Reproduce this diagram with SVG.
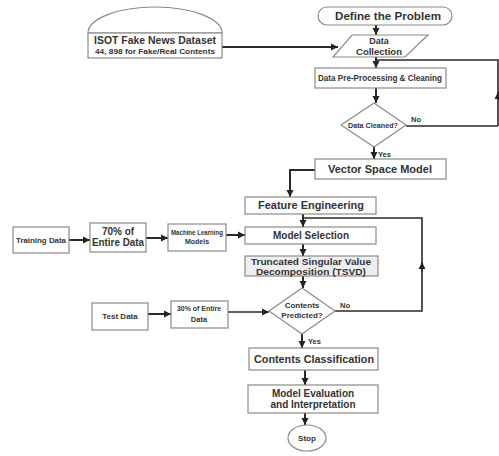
<svg xmlns="http://www.w3.org/2000/svg" width="499" height="456" viewBox="0 0 499 456">
<defs>
<marker id="ah" markerWidth="8" markerHeight="8" refX="7" refY="4" orient="auto" markerUnits="userSpaceOnUse">
<path d="M0,0.5 L7,4 L0,7.5 Z" fill="#222"/>
</marker>
<style>
.box{fill:#fff;stroke:#8a8a8a;stroke-width:1.2}
.c{fill:none;stroke:#2a2a2a;stroke-width:2}
.t{font-family:"Liberation Sans",Arial,sans-serif;font-weight:bold;fill:#333;text-anchor:middle}
.s{font-family:"Liberation Sans",Arial,sans-serif;font-weight:bold;fill:#333}
</style>
</defs>
<rect width="499" height="456" fill="#fff"/>

<g id="connectors">
<path class="c" d="M222,47 L338,47" marker-end="url(#ah)"/>
<path class="c" d="M376,25 L376,35" marker-end="url(#ah)"/>
<path class="c" d="M376,57 L376,68" marker-end="url(#ah)"/>
<path class="c" d="M498,126 L498,60 L376,60" style="stroke-width:1.6"/>
<path class="c" d="M498,100 L498,92" marker-end="url(#ah)" style="stroke-width:1.6"/>
<path class="c" d="M376,88 L376,103" marker-end="url(#ah)"/>
<path class="c" d="M406,126 L498,126" style="stroke-width:1.6"/>
<path class="c" d="M374,147 L374,159" marker-end="url(#ah)"/>
<path class="c" d="M315,170 L290,170 L290,197" marker-end="url(#ah)"/>
<path class="c" d="M303,214 L303,227" marker-end="url(#ah)"/>
<path class="c" d="M335,311 L422,311 L422,218 L303,218" style="stroke-width:1.6"/>
<path class="c" d="M422,272 L422,262" marker-end="url(#ah)" style="stroke-width:1.6"/>
<path class="c" d="M303,244 L303,256" marker-end="url(#ah)"/>
<path class="c" d="M303,276 L303,288" marker-end="url(#ah)"/>
<path class="c" d="M228,312 L269,312" marker-end="url(#ah)" style="stroke-width:1.6"/>
<path class="c" d="M302,334 L302,348" marker-end="url(#ah)"/>
<path class="c" d="M305,370 L305,385" marker-end="url(#ah)"/>
<path class="c" d="M305,413 L305,425" marker-end="url(#ah)"/>
<path class="c" d="M69,240 L90,240" marker-end="url(#ah)"/>
<path class="c" d="M146,238 L168,238" marker-end="url(#ah)"/>
<path class="c" d="M226,235 L245,235" marker-end="url(#ah)"/>
<path class="c" d="M148,314 L171,314" marker-end="url(#ah)"/>
<text class="s" x="411" y="122" font-size="7.5">No</text>
<text class="s" x="378" y="157" font-size="7.5">Yes</text>
<text class="s" x="340" y="308" font-size="7.5">No</text>
<text class="s" x="308" y="344" font-size="7.5">Yes</text>
</g>

<g id="dataset">
<path class="box" d="M88,33 A67,26 0 0 1 222,33 Z"/>
<rect class="box" x="88" y="33" width="134" height="25"/>
<text class="t" x="155" y="44" font-size="10" textLength="122" lengthAdjust="spacingAndGlyphs">ISOT Fake News Dataset</text>
<text class="t" x="155" y="54" font-size="7.5" textLength="120" lengthAdjust="spacingAndGlyphs">44, 898 for Fake/Real Contents</text>
</g>

<g id="define">
<rect class="box" x="318" y="7" width="134" height="18" rx="9"/>
<text class="t" x="388" y="20" font-size="10.5" textLength="106" lengthAdjust="spacingAndGlyphs">Define the Problem</text>
</g>

<g id="collection">
<polygon class="box" points="352,35 428,35 405,57 333,57"/>
<text class="t" x="379" y="44" font-size="9">Data</text>
<text class="t" x="379" y="55" font-size="9.5">Collection</text>
</g>

<g id="preprocessing">
<rect class="box" x="315" y="68" width="131" height="20"/>
<text class="t" x="380" y="81" font-size="9" textLength="124" lengthAdjust="spacingAndGlyphs">Data Pre-Processing &amp; Cleaning</text>
</g>

<g id="cleaned">
<polygon class="box" points="374,103 406,125 374,147 341,125"/>
<text class="t" x="373" y="128" font-size="7.5" textLength="50" lengthAdjust="spacingAndGlyphs">Data Cleaned?</text>
</g>

<g id="vsm">
<rect class="box" x="315" y="159" width="131" height="20"/>
<text class="t" x="380" y="173" font-size="10.5" textLength="104" lengthAdjust="spacingAndGlyphs">Vector Space Model</text>
</g>

<g id="feature">
<rect class="box" x="245" y="197" width="131" height="17"/>
<text class="t" x="311" y="209" font-size="10" textLength="106" lengthAdjust="spacingAndGlyphs">Feature Engineering</text>
</g>

<g id="selection">
<rect class="box" x="245" y="227" width="131" height="17"/>
<text class="t" x="311" y="239" font-size="10">Model Selection</text>
</g>

<g id="tsvd">
<rect class="box" x="245" y="256" width="133" height="20" style="fill:#eeeeee"/>
<text class="t" x="311" y="264.5" font-size="8.5" textLength="120" lengthAdjust="spacingAndGlyphs">Truncated Singular Value</text>
<text class="t" x="311" y="274.5" font-size="8.5" textLength="110" lengthAdjust="spacingAndGlyphs">Decomposition (TSVD)</text>
</g>

<g id="predicted">
<polygon class="box" points="302,288 335,311 302,334 269,311"/>
<text class="t" x="302" y="308" font-size="8">Contents</text>
<text class="t" x="302" y="318" font-size="8">Predicted?</text>
</g>

<g id="classification">
<rect class="box" x="249" y="348" width="129" height="22"/>
<text class="t" x="314" y="363" font-size="10" textLength="120" lengthAdjust="spacingAndGlyphs">Contents Classification</text>
</g>

<g id="evaluation">
<rect class="box" x="248" y="385" width="130" height="28"/>
<text class="t" x="313" y="397" font-size="10">Model Evaluation</text>
<text class="t" x="313" y="408" font-size="10">and Interpretation</text>
</g>

<g id="stop">
<ellipse class="box" cx="307" cy="438" rx="19" ry="13"/>
<text class="t" x="307" y="441" font-size="8">Stop</text>
</g>

<g id="training">
<rect class="box" x="13" y="227" width="56" height="26"/>
<text class="t" x="41" y="243" font-size="8" textLength="50" lengthAdjust="spacingAndGlyphs">Training Data</text>
</g>

<g id="seventy">
<rect class="box" x="90" y="223" width="56" height="29"/>
<text class="t" x="118" y="235" font-size="10">70% of</text>
<text class="t" x="118" y="246" font-size="10" textLength="52" lengthAdjust="spacingAndGlyphs">Entire Data</text>
</g>

<g id="ml">
<rect class="box" x="168" y="224" width="58" height="27"/>
<text class="t" x="197" y="235" font-size="7" textLength="52" lengthAdjust="spacingAndGlyphs">Machine Learning</text>
<text class="t" x="197" y="244" font-size="7">Models</text>
</g>

<g id="test">
<rect class="box" x="92" y="303" width="56" height="27"/>
<text class="t" x="120" y="319" font-size="8">Test Data</text>
</g>

<g id="thirty">
<rect class="box" x="171" y="301" width="57" height="27"/>
<text class="t" x="199" y="311" font-size="7.5" textLength="44" lengthAdjust="spacingAndGlyphs">30% of Entire</text>
<text class="t" x="199" y="322" font-size="7.5">Data</text>
</g>
</svg>
